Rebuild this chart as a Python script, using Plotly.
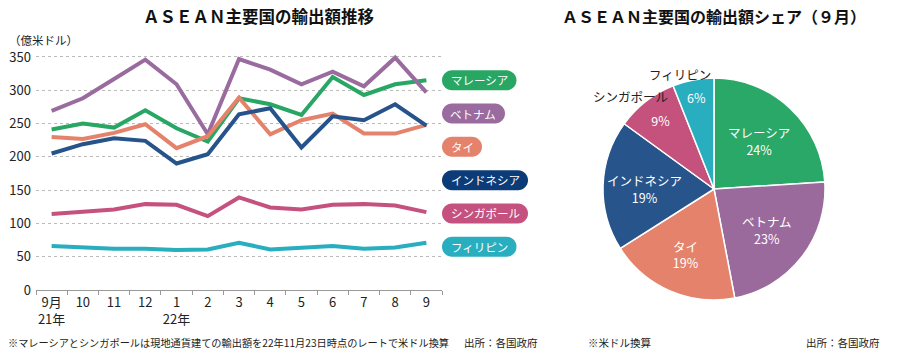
import math
import plotly.graph_objects as go

# ---------------- data ----------------
months = ["9月<br>21年", "10", "11", "12", "1<br>22年", "2", "3", "4", "5", "6", "7", "8", "9"]

malaysia    = [241, 250, 244, 270, 243, 223, 288, 279, 263, 320, 293, 309, 315]
vietnam     = [269, 288, 317, 346, 309, 234, 347, 331, 309, 328, 306, 349, 297]
thailand    = [230, 227, 236, 249, 213, 231, 289, 234, 255, 265, 235, 235, 248]
indonesia   = [205, 219, 228, 224, 190, 204, 264, 273, 214, 261, 255, 279, 247]
singapore   = [114, 118, 121, 129, 128, 111, 139, 124, 121, 128, 129, 127, 117]
philippines = [66, 64, 62, 62, 60, 61, 71, 61, 63, 66, 62, 64, 71]

countries = ["マレーシア", "ベトナム", "タイ", "インドネシア", "シンガポール", "フィリピン"]
share_sep = [24, 23, 19, 19, 9, 6]

# ---------------- styles ----------------
W, H = 899, 353
FONT = "Noto Sans CJK JP, Noto Sans, sans-serif"
line_colors = ["#28a764", "#9a6b9e", "#e5826b", "#26538a", "#c5527e", "#28aebf"]
pill_colors = ["#28a764", "#9a6b9e", "#e5826b", "#0c3c78", "#c5527e", "#28aebf"]
pie_colors = ["#2aa867", "#9a6a9d", "#e5826c", "#27548b", "#c5527d", "#28aebf"]
series = [malaysia, vietnam, thailand, indonesia, singapore, philippines]
outside_names = [False, False, False, False, True, True]


def px(x):
    return x / W


def py(y):
    return (H - y) / H


fig = go.Figure()

for name, vals, col in zip(countries, series, line_colors):
    fig.add_trace(go.Scatter(
        x=months, y=vals, mode="lines", name=name,
        line=dict(color=col, width=4), hoverinfo="x+y+name",
    ))

# Pie
PIE_L, PIE_R, PIE_T, PIE_B = 603, 825, 78, 300
pie_cx, pie_cy = (PIE_L + PIE_R) / 2, (PIE_T + PIE_B) / 2
pie_r = (PIE_R - PIE_L) / 2
inside_tmpl = ["%{percent}" if o else "%{label}<br>%{percent}" for o in outside_names]
fig.add_trace(go.Pie(
    labels=countries, values=share_sep, sort=False, direction="clockwise",
    rotation=0, marker=dict(colors=pie_colors, line=dict(color="white", width=1.5)),
    texttemplate=inside_tmpl, textposition="inside",
    insidetextorientation="horizontal",
    insidetextfont=dict(color="white", size=12.5, family=FONT),
    domain=dict(x=[px(PIE_L), px(PIE_R)], y=[py(PIE_B), py(PIE_T)]),
    hoverinfo="label+percent",
))

annotations = []
# outside name labels for small slices, placed at slice mid-angle
total = sum(share_sep)
cum = 0
for name, v, o in zip(countries, share_sep, outside_names):
    mid = (cum + v / 2) / total * 2 * math.pi
    cum += v
    if not o:
        continue
    rr = pie_r + 6
    lx = pie_cx + rr * math.sin(mid)
    ly = pie_cy - rr * math.cos(mid)
    annotations.append(dict(x=px(lx), y=py(ly), xanchor="center", xshift=-12,
                            text=name, font=dict(size=12.5, color="#222", family=FONT)))

# Legend pills
pill_vals = [315, 265, 215, 165, 115, 65]
unit_px = (290 - 57) / 350
shapes = []
pill_font = 11.5
for name, v, col in zip(countries, pill_vals, pill_colors):
    cy = 290 - v * unit_px
    w = len(name) * pill_font + 17
    x0, x1 = 442, 442 + w
    y0, y1 = cy - 10, cy + 10
    r = 10
    k = 0.55 * r
    path = (
        f"M {px(x0 + r)},{py(y0)} L {px(x1 - r)},{py(y0)} "
        f"C {px(x1 - r + k)},{py(y0)} {px(x1)},{py(y0 + r - k)} {px(x1)},{py(y0 + r)} "
        f"C {px(x1)},{py(y1 - r + k)} {px(x1 - r + k)},{py(y1)} {px(x1 - r)},{py(y1)} "
        f"L {px(x0 + r)},{py(y1)} "
        f"C {px(x0 + r - k)},{py(y1)} {px(x0)},{py(y1 - r + k)} {px(x0)},{py(y1 - r)} "
        f"C {px(x0)},{py(y0 + r - k)} {px(x0 + r - k)},{py(y0)} {px(x0 + r)},{py(y0)} Z"
    )
    shapes.append(dict(type="path", xref="paper", yref="paper", path=path,
                       fillcolor=col, line=dict(width=0), layer="above"))
    annotations.append(dict(x=px((x0 + x1) / 2), y=py(cy),
                            text=name, xanchor="center",
                            font=dict(color="white", size=pill_font, family=FONT)))

# Titles & notes
annotations += [
    dict(x=px(258), y=py(16), xanchor="center", text="<b>ＡＳＥＡＮ主要国の輸出額推移</b>",
         font=dict(size=16.5, color="#111", family=FONT)),
    dict(x=px(714), y=py(16), xanchor="center", text="<b>ＡＳＥＡＮ主要国の輸出額シェア（９月）</b>",
         font=dict(size=16, color="#111", family=FONT)),
    dict(x=px(7), y=py(40), xanchor="left", text="（億米ドル）",
         font=dict(size=11.5, color="#222", family=FONT)),
    dict(x=px(6), y=py(342), xanchor="left",
         text="※マレーシアとシンガポールは現地通貨建ての輸出額を22年11月23日時点のレートで米ドル換算",
         font=dict(size=10.2, color="#222", family=FONT)),
    dict(x=px(540), y=py(342), xanchor="right", text="出所：各国政府",
         font=dict(size=10.5, color="#222", family=FONT)),
    dict(x=px(586), y=py(342), xanchor="left", text="※米ドル換算",
         font=dict(size=10.5, color="#222", family=FONT)),
    dict(x=px(882), y=py(342), xanchor="right", text="出所：各国政府",
         font=dict(size=10.5, color="#222", family=FONT)),
]
for a in annotations:
    a.setdefault("xref", "paper")
    a.setdefault("yref", "paper")
    a.setdefault("yanchor", "middle")
    a.setdefault("showarrow", False)

fig.update_layout(
    width=W, height=H,
    margin=dict(l=0, r=0, t=0, b=0, autoexpand=False),
    paper_bgcolor="white", plot_bgcolor="white",
    showlegend=False,
    font=dict(family=FONT, color="#222"),
    shapes=shapes, annotations=annotations,
    xaxis=dict(
        domain=[px(36), px(442)], type="category", range=[-0.5, 12.5],
        showgrid=False, showline=True, linecolor="#999", linewidth=1,
        ticks="outside", tickson="boundaries", ticklen=4, tickcolor="#999",
        tickangle=0, automargin=False,
        tickfont=dict(size=13, color="#222", family=FONT), zeroline=False,
    ),
    yaxis=dict(
        domain=[py(290), py(290 - 356 * unit_px)], range=[0, 356],
        tickvals=[0, 50, 100, 150, 200, 250, 300, 350],
        showgrid=True, gridcolor="#bbbbbb", griddash="dot", gridwidth=1,
        zeroline=False, showline=False, ticks="", automargin=False,
        tickfont=dict(size=13, color="#222", family=FONT), ticklabelstandoff=4,
    ),
)

fig.write_html("out.html")
